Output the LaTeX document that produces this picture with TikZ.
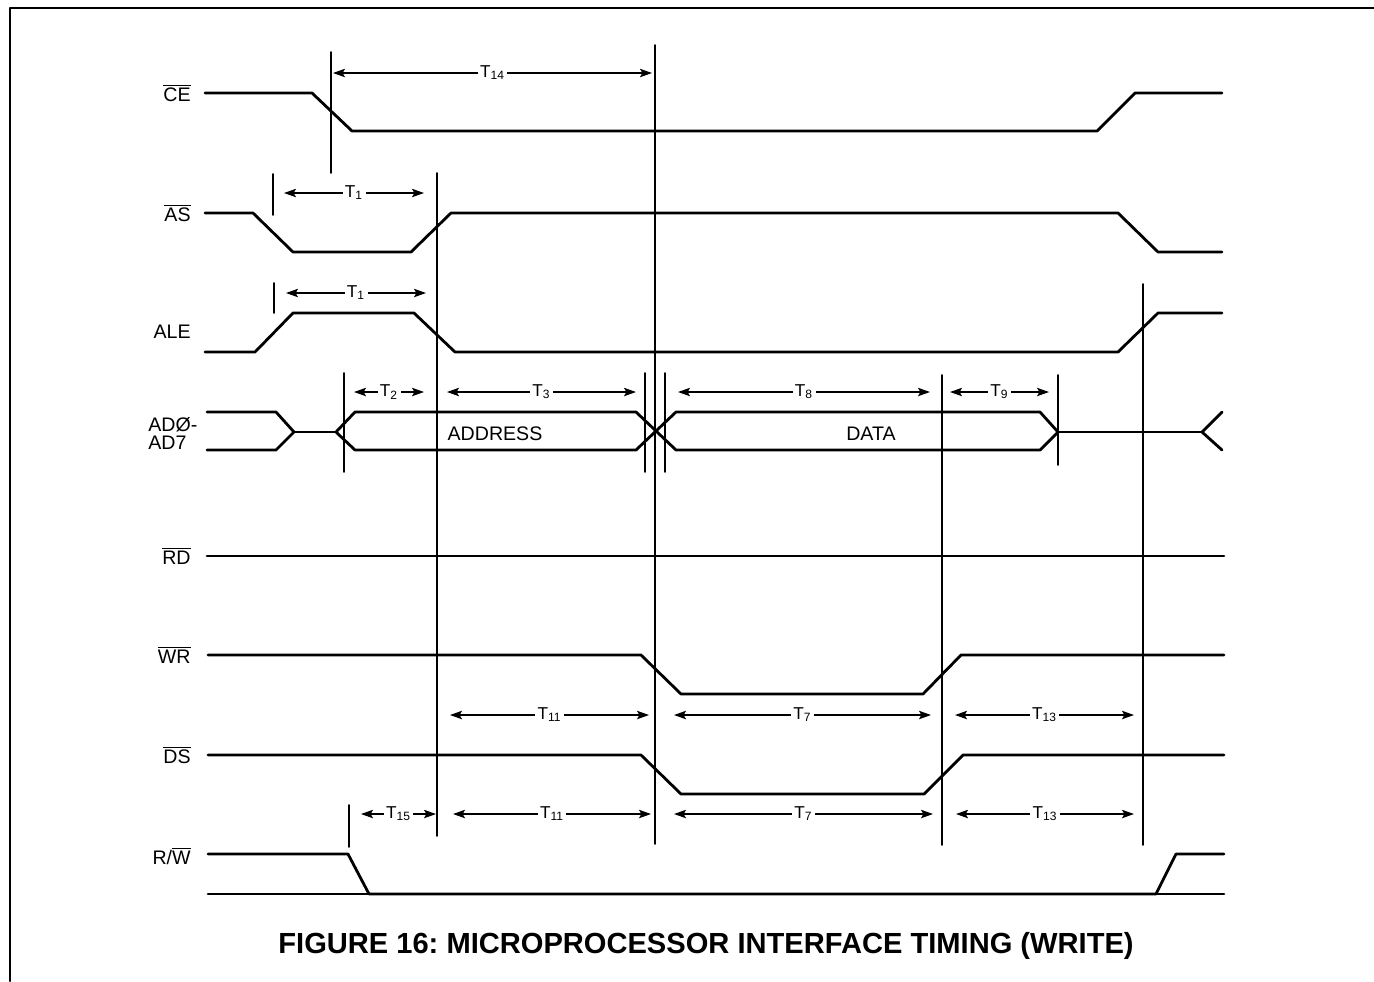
\documentclass[tikz,border=0pt]{standalone}
\usepackage{fontspec}
\setmainfont{Liberation Sans}
\usetikzlibrary{arrows.meta}
\begin{document}
\begin{tikzpicture}[x=0.5pt,y=-0.5pt,line join=round,line cap=round,>={Stealth[length=6pt,width=4.2pt,inset=1.2pt]},
  font=\fontsize{9.8}{11}\selectfont,
  sig/.style={line width=1.4pt},
  guide/.style={line width=0.9pt},
  dim/.style={<->,line width=0.7pt},
  tlbl/.style={fill=white,inner sep=1.2pt,font=\fontsize{8.6}{9}\selectfont},
  sigl/.style={anchor=east,inner sep=0pt}]
\useasboundingbox (0,0) rectangle (1374,981);
\draw[line width=1.2pt] (10,981) -- (10,8) -- (1374,8);
% signal names
\foreach \y/\s/\n in {93/{$\overline{\mbox{CE}}$}/ce, 213/{$\overline{\mbox{AS}}$}/as, 332/{ALE}/ale,
  556/{$\overline{\mbox{RD}}$}/rd, 655/{$\overline{\mbox{WR}}$}/wr, 755/{$\overline{\mbox{DS}}$}/ds, 856/{R/$\overline{\mbox{W}}$}/rw}
  \node[sigl] (\n) at (191,\y) {\s};
\node[anchor=west,align=left,inner sep=0pt] (ad) at (148,433) {ADØ-\\[-2pt]AD7};
% waveforms
\draw[sig] (205,93) -- (312,93) -- (352,131) -- (1097,131) -- (1135,93) -- (1222,93);
\draw[sig] (205,213) -- (253,213) -- (293,252) -- (411,252) -- (451,213) -- (1118,213) -- (1158,252) -- (1222,252);
\draw[sig] (205,352) -- (255,352) -- (293,313) -- (414,313) -- (455,352) -- (1118,352) -- (1158,313) -- (1222,313);
\draw[sig] (207,412) -- (276,412) -- (294,432) -- (276,450) -- (207,450);
\draw[sig] (294,432) -- (336,432);
\draw[sig] (355,412) -- (636,412) -- (676,450) -- (1040,450) -- (1058,432) -- (1040,412) -- (676,412) -- (636,450) -- (355,450) -- (336,432) -- cycle;
\draw[sig] (1058,432) -- (1202,432);
\draw[sig] (1222,412) -- (1202,432) -- (1222,450);
\draw[sig] (207,556) -- (1224,556);
\draw[sig] (208,655) -- (641,655) -- (681,694) -- (923,694) -- (961,655) -- (1224,655);
\draw[sig] (208,755) -- (641,755) -- (681,794) -- (924,794) -- (963,755) -- (1224,755);
\draw[sig] (208,854) -- (348,854) -- (369,894) -- (1156,894) -- (1176,854) -- (1224,854);
\draw[sig] (208,894) -- (1224,894);
\node (addr) at (495,434) {ADDRESS};
\node (data) at (871,434) {DATA};
% reference lines
\foreach \x/\ya/\yb in {331/52/173, 655/45/844, 273/174/215, 437/173/836, 274/283/313, 1143/284/845,
  344/373/472, 645/373/472, 665/373/472, 942/375/845, 1058/375/465, 349/805/847}
  \draw[guide] (\x,\ya) -- (\x,\yb);
% timing intervals
\foreach \a/\b/\y/\t/\n in {333/652/73/14/a, 284/424/193/1/b, 286/426/293/1/c, 354/424/392/2/d, 447/636/392/3/e,
  678/930/392/8/f, 950/1049/392/9/g, 450/649/715/11/h, 674/931/715/7/i, 955/1134/715/13/j,
  361/436/814/15/k, 453/651/814/11/l, 674/933/814/7/m, 956/1134/814/13/n}
  \draw[dim] (\a,\y) -- (\b,\y) node[tlbl,midway] (t\n) {T\textsubscript{\t}};
\node[font=\bfseries\fontsize{14.55}{16}\selectfont] (title) at (706,946) {FIGURE 16:\ MICROPROCESSOR INTERFACE TIMING (WRITE)};
\end{tikzpicture}
\end{document}
